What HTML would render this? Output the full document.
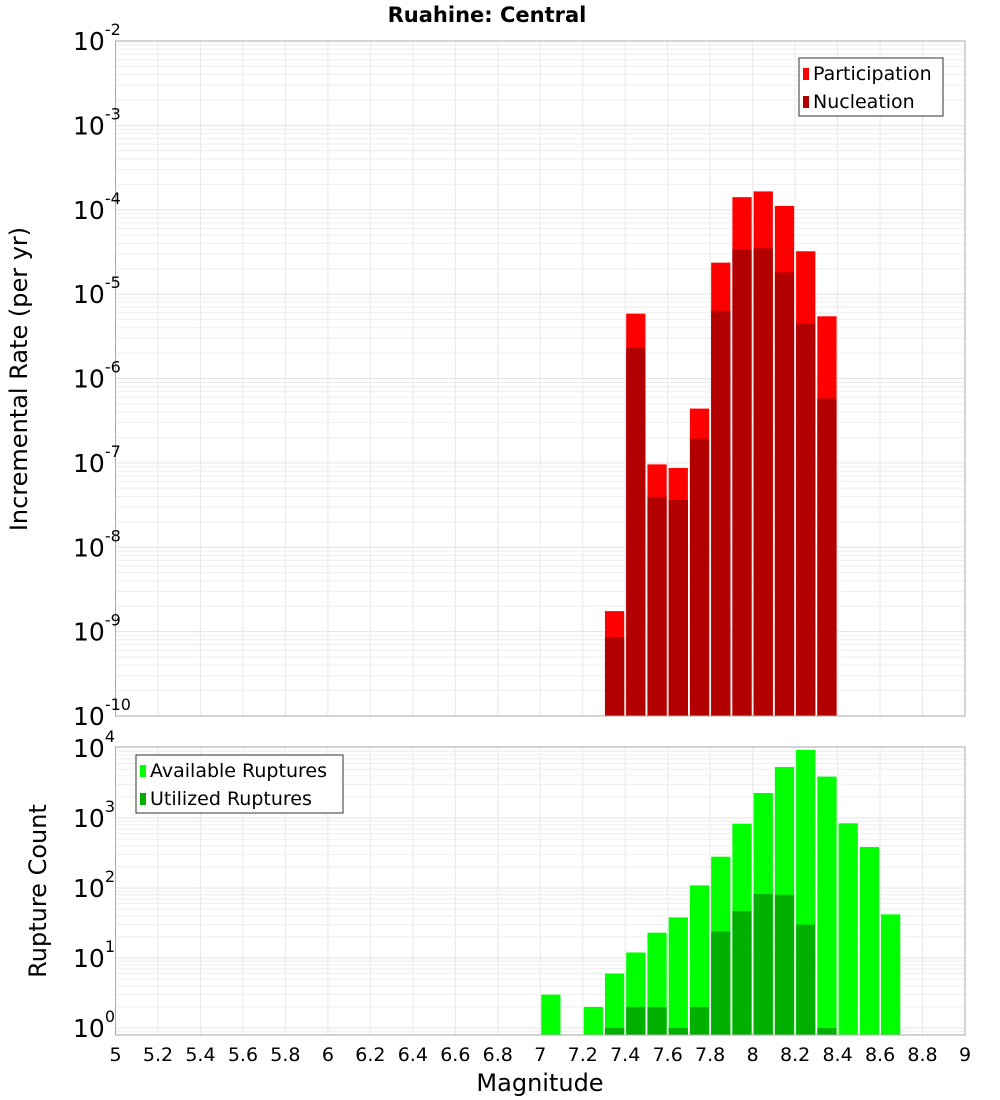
<!DOCTYPE html>
<html><head><meta charset="utf-8"><style>
html,body{margin:0;padding:0;background:#fff;}
svg{display:block;font-family:"DejaVu Sans","Liberation Sans",sans-serif;}
</style></head><body>
<svg id="chart" width="1000" height="1100" xmlns="http://www.w3.org/2000/svg">
<text x="487" y="22" text-anchor="middle" font-weight="bold" font-size="21">Ruahine: Central</text>
<g id="topPanel"></g>
<g id="botPanel"></g>
<text x="540" y="1091" text-anchor="middle" font-size="24">Magnitude</text>
<text transform="translate(27,379) rotate(-90)" text-anchor="middle" font-size="24">Incremental Rate (per yr)</text>
<text transform="translate(46,891) rotate(-90)" text-anchor="middle" font-size="24">Rupture Count</text>
</svg>
<script>
const rateBins = [7.35,7.45,7.55,7.65,7.75,7.85,7.95,8.05,8.15,8.25,8.35];
const participation = [1.75e-9,5.87e-6,9.6e-8,8.7e-8,4.4e-7,2.36e-5,1.41e-4,1.65e-4,1.11e-4,3.22e-5,5.46e-6];
const nucleation = [8.6e-10,2.31e-6,3.95e-8,3.63e-8,1.93e-7,6.34e-6,3.37e-5,3.5e-5,1.81e-5,4.48e-6,5.8e-7];
const countBins = [7.05,7.25,7.35,7.45,7.55,7.65,7.75,7.85,7.95,8.05,8.15,8.25,8.35,8.45,8.55,8.65];
const available = [3,2,6,12,23,38,109,280,830,2275,5350,9400,3900,840,385,42];
const utilizedBins = [7.35,7.45,7.55,7.65,7.75,7.85,7.95,8.05,8.15,8.25,8.35];
const utilized = [1,2,2,1,2,24,47,82,80,30,1];
const xTicks = [5,5.2,5.4,5.6,5.8,6,6.2,6.4,6.6,6.8,7,7.2,7.4,7.6,7.8,8,8.2,8.4,8.6,8.8,9];
const topDecades = [-2,-3,-4,-5,-6,-7,-8,-9,-10];
const botDecades = [0,1,2,3,4];

const NS = "http://www.w3.org/2000/svg";
const X0 = 115.5, X1 = 965;
const xs = m => X0 + (m - 5) / 4 * (X1 - X0);
const T0 = 41, T1 = 716;
const yTop = v => T0 + (-2 - Math.log10(v)) * (T1 - T0) / 8;
const B0 = 747, B1 = 1035;
const yBot = v => 1028 - 70 * Math.log10(v);
function mk(parent, tag, attrs) { const e = document.createElementNS(NS, tag); for (const k in attrs) e.setAttribute(k, attrs[k]); parent.appendChild(e); return e; }
const gTop = document.getElementById('topPanel'), gBot = document.getElementById('botPanel');

function grid(g, y0, y1, yf, dmin, dmax) {
  xTicks.forEach(t => { const l = mk(g, 'line', {x1: xs(t), x2: xs(t), y1: y0, y2: y1, stroke: '#e8e8e8', 'stroke-width': 1});
    
     });
  for (let d = dmin; d <= dmax; d++) for (let k = 1; k < 10; k++) {
    const y = yf(k * Math.pow(10, d)); if (y < y0 - 0.5 || y > y1 + 0.5) continue;
    const l = mk(g, 'line', {x1: X0, x2: X1, y1: y, y2: y, stroke: k == 1 ? '#e4e4e4' : '#eeeeee', 'stroke-width': 1});
    
    
  }
}
grid(gTop, T0, T1, yTop, -10, -3);
grid(gBot, B0, B1, yBot, -1, 3);

const bw = (xs(5.1) - xs(5)) - 2;
function bar(g, m, v, yf, base, color, name) {
  const y = Math.max(yf(v), g === gTop ? T0 : B0);
  const r = mk(g, 'rect', {x: xs(m) - bw / 2, y: y, width: bw, height: base - y, fill: color});
  
  
}
rateBins.forEach((m, i) => bar(gTop, m, participation[i], yTop, T1, '#ff0000', 'participation-bar'));
rateBins.forEach((m, i) => bar(gTop, m, nucleation[i], yTop, T1, '#b20000', 'nucleation-bar'));
countBins.forEach((m, i) => bar(gBot, m, available[i], yBot, B1, '#00ff00', 'available-bar'));
utilizedBins.forEach((m, i) => bar(gBot, m, utilized[i], yBot, B1, '#00b000', 'utilized-bar'));

[[gTop, T0, T1], [gBot, B0, B1]].forEach(([g, a, b]) => { const r = mk(g, 'rect', {x: X0, y: a, width: X1 - X0, height: b - a, fill: 'none', stroke: '#aaa', 'stroke-width': 1});
  
   });

function ylab(g, y, exp) {
  const t = mk(g, 'text', {x: 73, y: y + 9, 'font-size': 25});
  
  
  t.textContent = '10';
  const s = mk(t, 'tspan', {dy: -15, 'font-size': 16}); s.textContent = String(exp);
}
topDecades.forEach(d => ylab(gTop, yTop(Math.pow(10, d)), d));
botDecades.forEach(d => ylab(gBot, yBot(Math.pow(10, d)), d));
xTicks.forEach(t => { const e = mk(gBot, 'text', {x: xs(t), y: 1061, 'text-anchor': 'middle', 'font-size': 19});
  
  
  e.textContent = String(t); });

function legend(g, x, y, w, items) {
  const box = mk(g, 'rect', {x: x, y: y, width: w, height: 58, fill: '#fff', stroke: '#333', 'stroke-width': 1});
  
  
  items.forEach(([lab, c], i) => {
    const sw = mk(g, 'rect', {x: x + 4, y: y + 10 + i * 28, width: 6, height: 12, fill: c});
    
    
    const t = mk(g, 'text', {x: x + 14, y: y + 22 + i * 28, 'font-size': 19});
    
    
    t.textContent = lab;
  });
}
legend(gTop, 799, 58, 144, [['Participation', '#ff0000'], ['Nucleation', '#b20000']]);
legend(gBot, 136, 755, 207, [['Available Ruptures', '#00ff00'], ['Utilized Ruptures', '#00b000']]);
</script>
</body></html>
